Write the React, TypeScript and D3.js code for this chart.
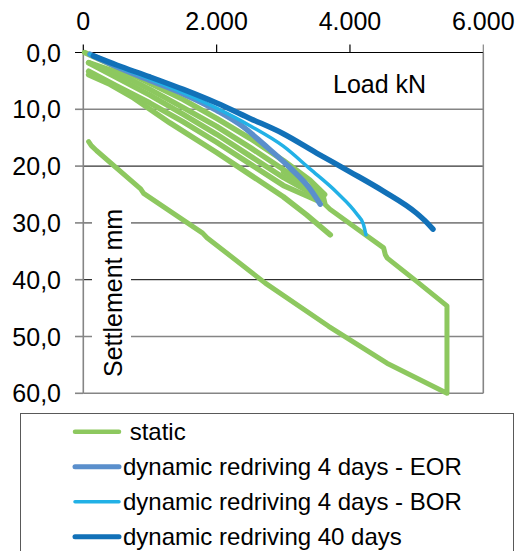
import React from "react";
import * as d3 from "d3";

type Pt = [number, number];

// Load (kN), settlement (mm)
const staticCycle1: Pt[] = [
  [20, 0], [500, 2.6], [1000, 5.4], [1500, 8.3], [2000, 11.6], [2500, 15.1], [3000, 19.0], [3400, 22.5], [3620, 25.0],
  [3560, 25.7], [3000, 22.0], [2500, 18.2], [2000, 14.4], [1500, 10.9], [1000, 7.5], [500, 4.4], [80, 1.8],
];
const staticCycle2: Pt[] = [
  [80, 1.8], [500, 3.5], [1000, 6.5], [1500, 9.7], [2000, 13.0], [2500, 16.7], [3000, 20.6], [3400, 23.7], [3600, 25.5],
  [3520, 26.1], [3000, 23.4], [2500, 19.6], [2000, 15.8], [1500, 12.2], [1000, 8.9], [500, 5.9], [80, 3.3],
];
const staticCycle3: Pt[] = [
  [80, 3.9], [400, 5.6], [755, 8.0], [1300, 12.4], [2000, 17.6], [2500, 21.5], [3000, 25.4], [3350, 28.6], [3705, 32.1],
];
const staticFinal: Pt[] = [
  [3000, 21.0], [3400, 24.0], [3560, 25.2], [3610, 25.8], [3630, 26.8], [3700, 27.6], [4100, 31.0], [4505, 34.4],
  [4530, 35.6], [4560, 36.2], [5000, 40.3], [5455, 44.6], [5455, 60.0], [4555, 54.7], [3680, 48.2], [2730, 40.6],
  [1855, 32.6], [1790, 31.8], [905, 24.8], [860, 24.0], [200, 17.3], [120, 16.4], [80, 15.7],
];
const eor: Pt[] = [
  [100, 0.3], [500, 2.5], [1000, 4.9], [1500, 7.3], [2000, 10.2], [2400, 13.1], [2700, 16.1], [3100, 20.3], [3400, 24.0], [3555, 26.7],
];
const bor: Pt[] = [
  [100, 0.3], [500, 2.4], [1000, 4.7], [1500, 7.1], [2000, 9.8], [2500, 12.9], [3000, 16.5], [3400, 20.5], [3800, 24.6],
  [4100, 28.4], [4200, 30.2], [4240, 32.1],
];
const days40: Pt[] = [
  [150, 0.6], [500, 2.2], [1000, 4.3], [1500, 6.5], [2000, 8.9], [2500, 11.6], [3000, 14.3], [3500, 17.7], [4000, 21.0],
  [4500, 24.4], [5000, 28.3], [5150, 29.9], [5245, 31.1],
];

const xTicks = [0, 2000, 4000, 6000];
const xTickLabels = ["0", "2.000", "4.000", "6.000"];
const yTicks = [0, 10, 20, 30, 40, 50, 60];
const yTickLabels = ["0,0", "10,0", "20,0", "30,0", "40,0", "50,0", "60,0"];
const legendLabels = [" static", "dynamic redriving 4 days - EOR", "dynamic redriving 4 days - BOR", "dynamic redriving 40 days"];

const GREEN = "#8dc85f";
const EOR_C = "#5a8fcc";
const BOR_C = "#22b1e6";
const D40_C = "#1271b8";
const FONT = "Arial, 'Liberation Sans', sans-serif";

export default function App() {
  const x = d3.scaleLinear().domain([0, 6000]).range([83.3, 483.3]);
  const y = d3.scaleLinear().domain([0, 60]).range([52.5, 393.3]);
  const lineLin = d3.line<Pt>().x((d) => x(d[0])).y((d) => y(d[1]));
  const lineSmooth = d3.line<Pt>().x((d) => x(d[0])).y((d) => y(d[1])).curve(d3.curveMonotoneX);

  const series = [
    { data: staticCycle1, color: GREEN, w: 5.5, smooth: false },
    { data: staticCycle2, color: GREEN, w: 5.5, smooth: false },
    { data: staticCycle3, color: GREEN, w: 5.5, smooth: false },
    { data: staticFinal, color: GREEN, w: 5, smooth: false },
    { data: eor, color: EOR_C, w: 5.5, smooth: true },
    { data: bor, color: BOR_C, w: 3.5, smooth: true },
    { data: days40, color: D40_C, w: 5.5, smooth: true },
  ];
  const legendColors = [GREEN, EOR_C, BOR_C, D40_C];
  const legendWidths = [4.5, 5, 3.5, 5];

  return (
    <svg width={527} height={551} style={{ position: "absolute", left: 0, top: 0, background: "#fff" }} fontFamily={FONT}>
      <rect x={0} y={0} width={527} height={551} fill="#fff" />
      {/* gridlines */}
      {yTicks.slice(1).map((t, i) => (
        <line key={"g" + t} x1={x(0)} x2={x(6000)} y1={y(t)} y2={y(t)}
          stroke={i % 2 === 1 && t !== 60 ? "#000" : "#858585"} strokeWidth={i % 2 === 1 && t !== 60 ? 1 : 1.6} />
      ))}
      {/* right border */}
      <line x1={x(6000)} x2={x(6000)} y1={y(0)} y2={y(60)} stroke="#858585" strokeWidth={1.6} />
      {/* y axis */}
      <line x1={x(0)} x2={x(0)} y1={y(0)} y2={y(60)} stroke="#858585" strokeWidth={1.6} />
      {yTicks.map((t) => (
        <line key={"yt" + t} x1={75} x2={x(0)} y1={y(t)} y2={y(t)} stroke={t === 0 ? "#000" : "#858585"} strokeWidth={t === 0 ? 1 : 1.6} />
      ))}
      {/* top axis */}
      <line x1={x(0)} x2={x(6000)} y1={y(0)} y2={y(0)} stroke="#000" strokeWidth={1.2} />
      {xTicks.map((t) => (
        <line key={"xt" + t} x1={x(t)} x2={x(t)} y1={44.5} y2={y(0)} stroke={t === 6000 ? "#858585" : "#000"} strokeWidth={1.2} />
      ))}
      {/* axis title background */}
      <rect x={92} y={198} width={39} height={184} fill="#fff" />
      {/* series */}
      {series.map((s, i) => (
        <path key={"s" + i} d={(s.smooth ? lineSmooth(s.data) : lineLin(s.data)) || ""} fill="none" stroke={s.color} strokeWidth={s.w}
          strokeLinejoin="round" strokeLinecap="round" />
      ))}
      {/* tick labels */}
      {xTicks.map((t, i) => (
        <text key={"xl" + t} x={x(t)} y={30} textAnchor="middle" fontSize={25} fill="#000">{xTickLabels[i]}</text>
      ))}
      {yTicks.map((t, i) => (
        <text key={"yl" + t} x={61} y={y(t) + 9} textAnchor="end" fontSize={25} fill="#000">{yTickLabels[i]}</text>
      ))}
      {/* titles */}
      <text x={333} y={93} fontSize={25} fill="#000">Load kN</text>
      <text transform="translate(121.5,377) rotate(-90)" fontSize={25} fill="#000">Settlement mm</text>
      {/* legend */}
      <rect x={20.5} y={413.5} width={493} height={160} fill="#fff" stroke="#595959" strokeWidth={1} />
      {legendLabels.map((lab, i) => {
        const ly = 431.7 + i * 35;
        return (
          <g key={"lg" + i}>
            <line x1={75} x2={119} y1={ly} y2={ly} stroke={legendColors[i]} strokeWidth={legendWidths[i]} strokeLinecap="round" />
            <text x={123} y={ly + 8} fontSize={24} fill="#000" style={{ whiteSpace: "pre" }}>{lab}</text>
          </g>
        );
      })}
    </svg>
  );
}
